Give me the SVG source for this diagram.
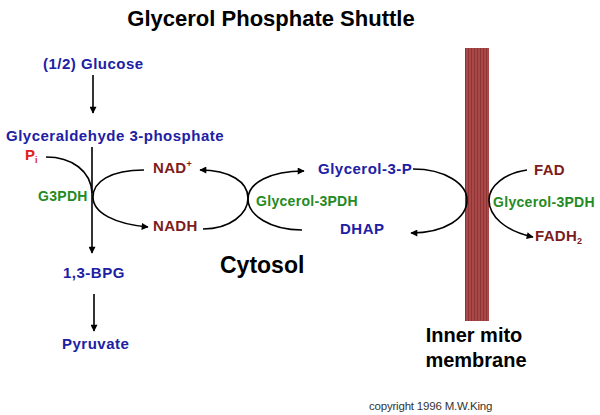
<svg xmlns="http://www.w3.org/2000/svg" width="600" height="415" viewBox="0 0 600 415">
<style>
text{font-family:"Liberation Sans",Arial,sans-serif;font-weight:bold}
.b{fill:#2020a4;font-size:15px;letter-spacing:0.5px}
.g{fill:#248a24;font-size:14px;letter-spacing:0.3px}
.r{fill:#7c1c1c;font-size:15px;letter-spacing:0.3px}
.k{fill:#000}
.c{fill:none;stroke:#000;stroke-width:1.6}
</style>
<defs>
<marker id="ah" viewBox="0 0 10 10" refX="9" refY="5" markerWidth="9" markerHeight="7" markerUnits="userSpaceOnUse" orient="auto">
<path d="M0,0L10,5L0,10z" fill="#000"/>
</marker>
<pattern id="stripes" width="3" height="10" patternUnits="userSpaceOnUse">
<rect width="3" height="10" fill="#a94848"/>
<rect width="1" height="10" fill="#913434"/>
</pattern>
</defs>
<text x="271" y="26" class="k" font-size="22" text-anchor="middle">Glycerol Phosphate Shuttle</text>
<g id="membrane">
<rect x="465" y="48" width="24" height="273" fill="url(#stripes)"/>
<text x="474" y="342" class="k" font-size="20" text-anchor="middle">Inner mito</text>
<text x="476" y="367" class="k" font-size="20" text-anchor="middle">membrane</text>
</g>
<g id="cytosol"><text x="220" y="273" class="k" font-size="23">Cytosol</text></g>
<g id="glucose"><text x="43" y="69" class="b">(1/2) Glucose</text></g>
<g id="g3p"><text x="6" y="141" class="b" letter-spacing="0.6">Glyceraldehyde 3-phosphate</text></g>
<g id="pi"><text x="25" y="160" fill="#e02020" font-size="15">P<tspan font-size="9" dy="3">i</tspan></text></g>
<g id="g3pdh"><text x="38" y="201" class="g">G3PDH</text></g>
<g id="nadplus"><text x="153" y="173" class="r">NAD<tspan font-size="9" dy="-6">+</tspan></text></g>
<g id="nadh"><text x="153" y="231" class="r">NADH</text></g>
<g id="bpg"><text x="63" y="278" class="b">1,3-BPG</text></g>
<g id="pyruvate"><text x="62" y="349" class="b">Pyruvate</text></g>
<g id="glycerol3p"><text x="318" y="174" class="b">Glycerol-3-P</text></g>
<g id="gpdh-cyt"><text x="256" y="206" class="g">Glycerol-3PDH</text></g>
<g id="dhap"><text x="340" y="234" class="b">DHAP</text></g>
<g id="fad"><text x="534" y="175" class="r">FAD</text></g>
<g id="gpdh-mito"><text x="493" y="207" class="g">Glycerol-3PDH</text></g>
<g id="fadh2"><text x="535" y="241" class="r">FADH<tspan font-size="9" dy="3">2</tspan></text></g>
<text x="369" y="410" fill="#333" font-size="11.5" style="font-weight:normal" letter-spacing="-0.2">copyright 1996 M.W.King</text>
<g id="connectors">
<path class="c" d="M93,75V113" marker-end="url(#ah)"/>
<path class="c" d="M92,147V253" marker-end="url(#ah)"/>
<path class="c" d="M94,294V331" marker-end="url(#ah)"/>
<path class="c" d="M46,157C72,157 91,171 92,193"/>
<path class="c" d="M144,170C110,170 93,182 93,197C93,213 115,224 148,227" marker-end="url(#ah)"/>
<path class="c" d="M203,229C230,229 248,214 248,198C248,182 230,170 200,170" marker-end="url(#ah)"/>
<path class="c" d="M302,230C270,230 248,215 248,199C248,183 270,171 304,171" marker-end="url(#ah)"/>
<path class="c" d="M413,169C445,169 467,184 467,200C467,218 445,233 411,233" marker-end="url(#ah)"/>
<path class="c" d="M527,170C505,173 489,186 489,200C489,216 505,231 533,237" marker-end="url(#ah)"/>
</g>
</svg>
